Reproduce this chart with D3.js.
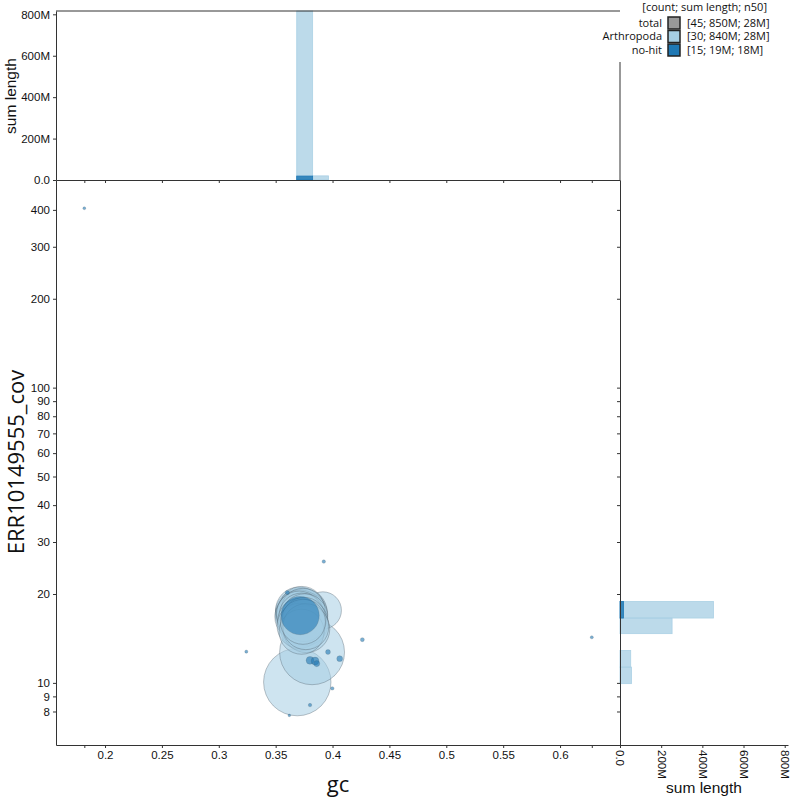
<!DOCTYPE html>
<html>
<head>
<meta charset="utf-8">
<script src="https://cdn.jsdelivr.net/npm/d3@7/dist/d3.min.js"></script>
<style>
  html, body { margin: 0; padding: 0; background: #fff; }
  svg { display: block; }
  .tick text { font-family: "Liberation Sans", Arial, sans-serif; font-size: 11.5px; fill: #111; }
  .domain, .tick line { stroke: #333; }
</style>
</head>
<body>
<svg id="chart" width="800" height="800"></svg>
<script>
// ---------------- data ----------------
const categories = ["total", "Arthropoda", "no-hit"];
const catColors = ["#999999", "#a6cee3", "#1f78b4"];
const legendValues = ["[45; 850M; 28M]", "[30; 840M; 28M]", "[15; 19M; 18M]"];
const legendHeader = "[count; sum length; n50]";

// Arthropoda contigs: gc, coverage, length (Mb)
const arthGc  = [0.3690, 0.3820, 0.3915,
  0.3700, 0.3712, 0.3725, 0.3690, 0.3735, 0.3745, 0.3705, 0.3720, 0.3750, 0.3730,
  0.3695, 0.3760, 0.3715, 0.3740, 0.3708, 0.3728, 0.3755,
  0.3720, 0.3745, 0.3735, 0.3760, 0.3710, 0.3770, 0.3750, 0.3728, 0.3765, 0.3740];
const arthCov = [10.06, 12.7, 17.6,
  17.3, 16.9, 17.5, 17.0, 17.2, 16.8, 17.6, 16.7, 17.4, 17.8,
  16.7, 17.0, 17.2, 17.6, 17.1, 16.9, 16.75,
  16.2, 15.8, 15.3, 16.0, 15.6, 15.2, 16.4, 14.9, 15.5, 16.1];
const arthLen = [56, 52, 17,
  26, 25, 27, 24, 26, 25, 27, 24, 26, 25,
  26, 25, 27, 24, 26, 25, 26,
  26, 25, 24, 26, 25, 27, 24, 25, 26, 25];

// no-hit contigs
const nohitGc  = [0.3715, 0.1818, 0.6279, 0.3923, 0.3603, 0.3242, 0.4262, 0.3960, 0.4063,
  0.3802, 0.3846, 0.3861, 0.3998, 0.3802, 0.3620];
const nohitCov = [16.9, 405, 14.27, 25.75, 20.22, 12.76, 14.01, 12.72, 12.08,
  11.92, 11.86, 11.62, 9.58, 8.41, 7.76];
const nohitLen = [18, 0.1, 0.12, 0.15, 0.22, 0.12, 0.2, 0.3, 0.42,
  0.75, 0.75, 0.45, 0.15, 0.15, 0.08];

// top histogram (sum length per gc bin, Mb)
const gcBinLo = [0.3685, 0.3825];
const gcBinHi = [0.3825, 0.3965];
const gcBinArth = [830, 20];
const gcBinNohit = [19, 0];

// right histogram (sum length per coverage bin, Mb)
const covBinLo = [9.94, 11.31, 14.68, 16.58];
const covBinHi = [11.31, 12.88, 16.58, 18.87];
const covBinArth = [56, 52, 253, 454];
const covBinNohit = [0, 0, 0, 17];

// ticks
const gcTicks = [0.2, 0.25, 0.3, 0.35, 0.4, 0.45, 0.5, 0.55, 0.6];
const covTicks = [8, 9, 10, 20, 30, 40, 50, 60, 70, 80, 90, 100, 200, 300, 400];
const lenTicks = [0, 200, 400, 600, 800];

// ---------------- layout ----------------
const L = 56, R = 620, T = 180, B = 745;
const histTop = 11, histRight = 788;

const svg = d3.select("#chart");

const x = d3.scaleLinear().domain([0.1569, 0.6527]).range([L, R]);
const y = d3.scaleLog().domain([6.16, 505]).range([B, T]);
const hY = d3.scaleLinear().domain([0, 816]).range([T, histTop]);
const hX = d3.scaleLinear().domain([0, 816]).range([R, histRight]);
const rScale = d3.scaleSqrt().domain([0, 56]).range([0, 33.7]);

const lenFmt = d => d === 0 ? "0.0" : d + "M";

svg.append("defs").append("clipPath").attr("id", "mainclip")
  .append("rect").attr("x", L).attr("y", T).attr("width", R - L).attr("height", B - T);

// ---------------- top histogram ----------------
const topHist = svg.append("g");
const gcBins = gcBinLo.map((lo, i) => ({ lo, hi: gcBinHi[i], arth: gcBinArth[i], nohit: gcBinNohit[i] }));
topHist.selectAll("rect.arth").data(gcBins).join("rect").attr("class", "arth")
  .attr("x", d => x(d.lo))
  .attr("width", d => x(d.hi) - x(d.lo))
  .attr("y", d => hY(Math.min(d.arth, 816)))
  .attr("height", d => hY(0) - hY(Math.min(d.arth, 816)))
  .attr("fill", catColors[1]).attr("fill-opacity", 0.75)
  .attr("stroke", catColors[1]).attr("stroke-opacity", 0.9).attr("stroke-width", 0.8);
topHist.selectAll("rect.nh").data(gcBins.filter(d => d.nohit > 0)).join("rect").attr("class", "nh")
  .attr("x", d => x(d.lo))
  .attr("width", d => x(d.hi) - x(d.lo))
  .attr("y", d => hY(d.nohit))
  .attr("height", d => hY(0) - hY(d.nohit))
  .attr("fill", catColors[2]).attr("fill-opacity", 0.85)
  .attr("stroke", catColors[2]).attr("stroke-width", 0.8);

// ---------------- right histogram ----------------
const rightHist = svg.append("g");
const covBins = covBinLo.map((lo, i) => ({ lo, hi: covBinHi[i], arth: covBinArth[i], nohit: covBinNohit[i] }));
rightHist.selectAll("rect.arth").data(covBins).join("rect").attr("class", "arth")
  .attr("x", R)
  .attr("y", d => y(d.hi))
  .attr("height", d => y(d.lo) - y(d.hi))
  .attr("width", d => hX(d.arth) - R)
  .attr("fill", catColors[1]).attr("fill-opacity", 0.75)
  .attr("stroke", catColors[1]).attr("stroke-opacity", 0.9).attr("stroke-width", 0.8);
rightHist.selectAll("rect.nh").data(covBins.filter(d => d.nohit > 0)).join("rect").attr("class", "nh")
  .attr("x", R)
  .attr("y", d => y(d.hi))
  .attr("height", d => y(d.lo) - y(d.hi))
  .attr("width", d => hX(d.nohit) - R)
  .attr("fill", catColors[2]).attr("fill-opacity", 0.85)
  .attr("stroke", catColors[2]).attr("stroke-width", 0.8);

// ---------------- bubbles ----------------
const plot = svg.append("g").attr("clip-path", "url(#mainclip)");
const arth = arthGc.map((g, i) => ({ gc: g, cov: arthCov[i], len: arthLen[i] }));
const nohit = nohitGc.map((g, i) => ({ gc: g, cov: nohitCov[i], len: nohitLen[i] }));

plot.append("g").selectAll("circle").data(arth).join("circle")
  .attr("cx", d => x(d.gc)).attr("cy", d => y(d.cov)).attr("r", d => rScale(d.len))
  .attr("fill", catColors[1]).attr("fill-opacity", 0.55)
  .attr("stroke", "#4d5a66").attr("stroke-opacity", 0.45).attr("stroke-width", 0.8);
plot.append("g").selectAll("circle").data(nohit).join("circle")
  .attr("cx", d => x(d.gc)).attr("cy", d => y(d.cov)).attr("r", d => Math.max(1.3, rScale(d.len)))
  .attr("fill", catColors[2]).attr("fill-opacity", 0.6)
  .attr("stroke", "#4d5a66").attr("stroke-opacity", 0.35).attr("stroke-width", 0.6);

// ---------------- axes ----------------
const allGc = nohitGc.concat(arthGc);
const extraGc = [d3.min(allGc), d3.max(allGc)];

svg.append("g").attr("transform", `translate(0,${B})`)
  .call(d3.axisBottom(x).tickValues(gcTicks).tickSize(3).tickSizeOuter(0).tickPadding(3).tickFormat(d3.format("")));
svg.append("g").attr("transform", `translate(0,${B})`)
  .call(d3.axisBottom(x).tickValues(extraGc).tickSize(3).tickSizeOuter(0).tickFormat(""))
  .select(".domain").remove();
svg.append("g").attr("transform", `translate(0,${T})`)
  .call(d3.axisBottom(x).tickValues(gcTicks.concat(extraGc)).tickSize(3).tickSizeOuter(0).tickFormat(""));
svg.append("line").attr("x1", L).attr("x2", R).attr("y1", histTop).attr("y2", histTop)
  .attr("stroke", "#333");

svg.append("g").attr("transform", `translate(${L},0)`)
  .call(d3.axisLeft(y).tickValues(covTicks).tickSize(3).tickSizeOuter(0).tickPadding(3).tickFormat(d3.format("")));
svg.append("g").attr("transform", `translate(${L},0)`)
  .call(d3.axisLeft(hY).tickValues(lenTicks).tickSize(3).tickSizeOuter(0).tickPadding(3).tickFormat(lenFmt));

svg.append("g").attr("transform", `translate(${R},0)`)
  .call(d3.axisLeft(y).tickValues(covTicks).tickSize(3).tickSizeOuter(0).tickFormat(""));
svg.append("line").attr("x1", R).attr("x2", R).attr("y1", 62).attr("y2", T)
  .attr("stroke", "#333");
const rb = svg.append("g").attr("transform", `translate(0,${B})`)
  .call(d3.axisBottom(hX).tickValues(lenTicks).tickSize(3).tickSizeOuter(0).tickFormat(lenFmt));
rb.selectAll(".tick text")
  .attr("transform", "rotate(90)")
  .attr("text-anchor", "start")
  .attr("dy", "0.35em")
  .attr("x", 5).attr("y", 0);

// ---------------- axis titles ----------------
svg.append("text").attr("x", 338).attr("y", 792).attr("text-anchor", "middle")
  .style("font-family", "'Open Sans', sans-serif").style("font-size", "22px").attr("fill", "#111")
  .text("gc");
svg.append("text").attr("transform", `translate(24,462) rotate(-90)`).attr("text-anchor", "middle")
  .style("font-family", "'Open Sans', sans-serif").style("font-size", "22px").attr("fill", "#111")
  .text("ERR10149555_cov");
svg.append("text").attr("transform", `translate(16,96) rotate(-90)`).attr("text-anchor", "middle")
  .style("font-family", "'Liberation Sans', Arial, sans-serif").style("font-size", "15.5px").attr("fill", "#111")
  .text("sum length");
svg.append("text").attr("x", 704).attr("y", 793).attr("text-anchor", "middle")
  .style("font-family", "'Liberation Sans', Arial, sans-serif").style("font-size", "15.5px").attr("fill", "#111")
  .text("sum length");

// ---------------- legend ----------------
const lg = svg.append("g").style("font-family", "'Open Sans', sans-serif").style("font-size", "11px");
lg.append("text").attr("x", 767).attr("y", 11).attr("text-anchor", "end").attr("fill", "#111").text(legendHeader);
const rowsY = [23, 36.5, 50];
categories.forEach((c, i) => {
  lg.append("text").attr("x", 662).attr("y", rowsY[i]).attr("dy", "0.35em")
    .attr("text-anchor", "end").attr("fill", "#111").text(c);
  lg.append("rect").attr("x", 668).attr("y", rowsY[i] - 6).attr("width", 12).attr("height", 12)
    .attr("fill", catColors[i]).attr("stroke", "#222").attr("stroke-width", 1.5);
  lg.append("text").attr("x", 687).attr("y", rowsY[i]).attr("dy", "0.35em")
    .attr("fill", "#111").text(legendValues[i]);
});
</script>
</body>
</html>
